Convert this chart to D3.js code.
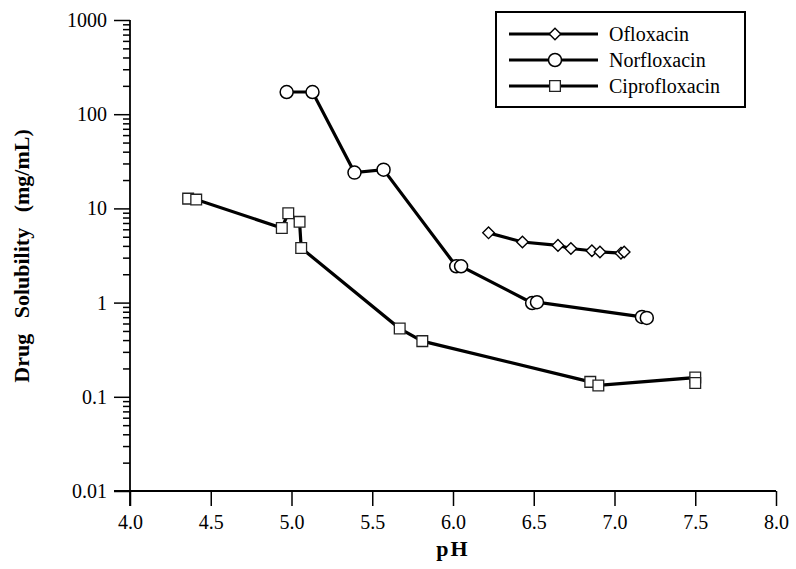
<!DOCTYPE html>
<html>
<head>
<meta charset="utf-8">
<script src="https://cdn.jsdelivr.net/npm/d3@7"></script>
<style>
  body { margin: 0; background: #fff; }
  text { font-family: "Liberation Serif", "Times New Roman", serif; fill: #000; }
</style>
</head>
<body>
<script>
// values
var oflox_pH  = [6.22, 6.43, 6.65, 6.73, 6.86, 6.91, 7.04, 7.06];
var oflox_sol = [5.5, 4.4, 4.05, 3.75, 3.55, 3.45, 3.35, 3.45];

var norflox_pH  = [4.97, 5.13, 5.39, 5.57, 6.02, 6.05, 6.49, 6.52, 7.17, 7.20];
var norflox_sol = [172, 172, 24.0, 25.8, 2.43, 2.43, 0.99, 1.01, 0.705, 0.688];

var cipro_pH  = [4.36, 4.41, 4.94, 4.98, 5.05, 5.06, 5.67, 5.81, 6.85, 6.90, 7.50, 7.50];
var cipro_sol = [12.7, 12.4, 6.2, 8.9, 7.2, 3.8, 0.53, 0.39, 0.144, 0.132, 0.160, 0.140];

var xTicks = [4.0, 4.5, 5.0, 5.5, 6.0, 6.5, 7.0, 7.5, 8.0];
var yTicks = [0.01, 0.1, 1, 10, 100, 1000];
var yTickLabels = ["0.01", "0.1", "1", "10", "100", "1000"];
var seriesNames = ["Ofloxacin", "Norfloxacin", "Ciprofloxacin"];

var FONT = "'Liberation Serif', 'Times New Roman', serif";
var W = 796, H = 569;
var svg = d3.select("body").append("svg")
    .attr("width", W)
    .attr("height", H);

var x = d3.scaleLinear().domain([4, 8]).range([130, 776]);
var y = d3.scaleLog().domain([0.01, 1000]).range([491, 20]);

// minor ticks for log axis
var minor = [];
for (var d = 0; d < yTicks.length - 1; d++) {
    for (var m = 2; m <= 9; m++) minor.push(yTicks[d] * m);
}

var gy = svg.append("g").attr("transform", "translate(130,0)");
gy.call(d3.axisLeft(y).tickValues(minor).tickSize(7).tickFormat(""));
gy.select(".domain").remove();
var gyMaj = svg.append("g").attr("transform", "translate(130,0)")
    .call(d3.axisLeft(y).tickValues(yTicks).tickSize(16).tickPadding(7)
        .tickFormat(function(v, i){ return yTickLabels[i]; }));
gyMaj.select(".domain").remove();
gyMaj.selectAll("text").style("font-family", FONT).style("font-size", "20px");
svg.selectAll("g .tick line").attr("stroke", "#000").attr("stroke-width", 1.5);

// y axis line (extends down past x axis)
svg.append("line")
    .attr("x1", 130).attr("x2", 130)
    .attr("y1", y(1000)).attr("y2", 506)
    .attr("stroke", "#000").attr("stroke-width", 1.8);

var gx = svg.append("g").attr("transform", "translate(0,491)")
    .call(d3.axisBottom(x).tickValues(xTicks).tickSize(15).tickPadding(9)
        .tickFormat(d3.format(".1f")));
gx.select(".domain").remove();
gx.selectAll("text").style("font-family", FONT).style("font-size", "20px");
gx.selectAll(".tick line").attr("stroke", "#000").attr("stroke-width", 1.5);

svg.append("line")
    .attr("x1", 114).attr("x2", x(8))
    .attr("y1", 491).attr("y2", 491)
    .attr("stroke", "#000").attr("stroke-width", 1.8);

// axis titles
svg.append("text")
    .attr("x", x(6)).attr("y", 556)
    .attr("text-anchor", "middle")
    .style("font-size", "22px").style("font-weight", "bold")
    .attr("letter-spacing", "2px")
    .text("pH");

svg.append("text")
    .attr("transform", "translate(29,256) rotate(-90)")
    .attr("text-anchor", "middle")
    .style("font-size", "22px").style("font-weight", "bold")
    .attr("word-spacing", "10px")
    .text("Drug Solubility (mg/mL)");

var line = d3.line()
    .x(function(d){ return x(d[0]); })
    .y(function(d){ return y(d[1]); });

function zip(a, b) { return a.map(function(v, i){ return [v, b[i]]; }); }

var oflox = zip(oflox_pH, oflox_sol);
var norflox = zip(norflox_pH, norflox_sol);
var cipro = zip(cipro_pH, cipro_sol);

[oflox, norflox, cipro].forEach(function(data){
    svg.append("path")
        .datum(data)
        .attr("d", line)
        .attr("fill", "none")
        .attr("stroke", "#000")
        .attr("stroke-width", 3.2);
});

var diamond = d3.symbol().type(d3.symbolDiamond2).size(85);
var square = d3.symbol().type(d3.symbolSquare).size(115);

svg.selectAll(".cip").data(cipro).enter().append("path")
    .attr("transform", function(d){ return "translate(" + x(d[0]) + "," + y(d[1]) + ")"; })
    .attr("d", square)
    .attr("fill", "#fff").attr("stroke", "#222").attr("stroke-width", 1.3);

svg.selectAll(".nor").data(norflox).enter().append("circle")
    .attr("cx", function(d){ return x(d[0]); })
    .attr("cy", function(d){ return y(d[1]); })
    .attr("r", 6.5)
    .attr("fill", "#fff").attr("stroke", "#000").attr("stroke-width", 1.5);

svg.selectAll(".ofl").data(oflox).enter().append("path")
    .attr("transform", function(d){ return "translate(" + x(d[0]) + "," + y(d[1]) + ")"; })
    .attr("d", diamond)
    .attr("fill", "#fff").attr("stroke", "#000").attr("stroke-width", 1.4);

// legend
var leg = svg.append("g");
leg.append("rect")
    .attr("x", 496).attr("y", 12)
    .attr("width", 249).attr("height", 95)
    .attr("fill", "#fff").attr("stroke", "#000").attr("stroke-width", 2);

seriesNames.forEach(function(name, i){
    var ly = 34 + i * 26;
    leg.append("line")
        .attr("x1", 509).attr("x2", 598)
        .attr("y1", ly).attr("y2", ly)
        .attr("stroke", "#000").attr("stroke-width", 3);
    if (i == 0) {
        leg.append("path").attr("transform", "translate(555," + ly + ")")
            .attr("d", diamond)
            .attr("fill", "#fff").attr("stroke", "#000").attr("stroke-width", 1.4);
    } else if (i == 1) {
        leg.append("circle").attr("cx", 555).attr("cy", ly).attr("r", 6.5)
            .attr("fill", "#fff").attr("stroke", "#000").attr("stroke-width", 1.5);
    } else {
        leg.append("path").attr("transform", "translate(555," + ly + ")")
            .attr("d", square)
            .attr("fill", "#fff").attr("stroke", "#222").attr("stroke-width", 1.3);
    }
    leg.append("text")
        .attr("x", 609).attr("y", ly + 7)
        .style("font-size", "20px")
        .text(name);
});
</script>
</body>
</html>
